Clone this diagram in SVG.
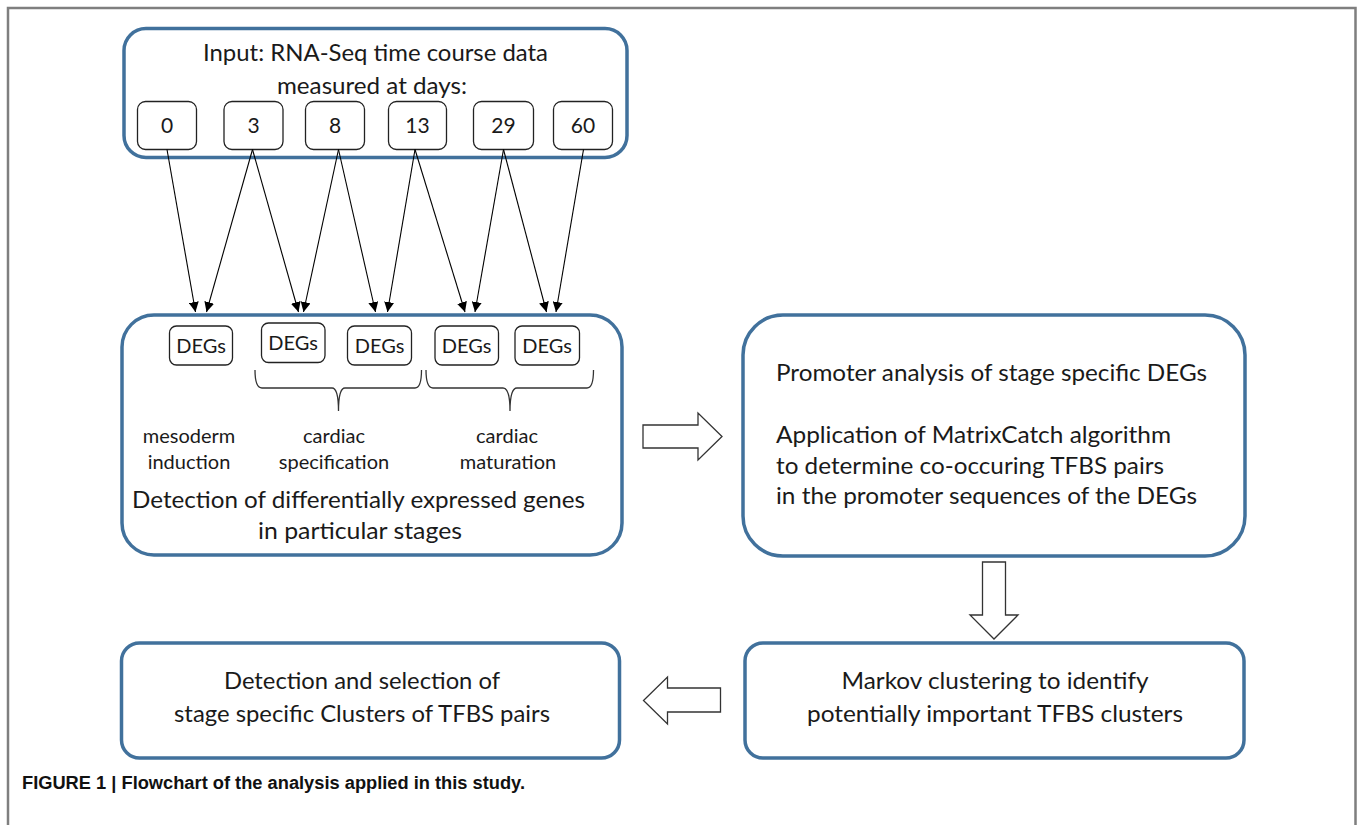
<svg xmlns="http://www.w3.org/2000/svg" width="1357" height="825" viewBox="0 0 1357 825">
<defs>
<marker id="ah" viewBox="0 0 10 10" refX="10" refY="5" markerWidth="10" markerHeight="10" markerUnits="userSpaceOnUse" orient="auto">
<path d="M0,0 L10,5 L0,10 z" fill="#000"/>
</marker>
</defs>
<style>
.big{fill:#fff;stroke:#41719C;stroke-width:3.5}
.small{fill:#fff;stroke:#222;stroke-width:1.3}
.t{font-family:Lato,"Liberation Sans",sans-serif;fill:#1a1a1a}
.t24{font-size:24px}
.t21{font-size:21px}
.t20{font-size:20px}
.mid{text-anchor:middle}
.conn line{stroke:#000;stroke-width:1.1;marker-end:url(#ah)}
.block{fill:#fff;stroke:#333;stroke-width:1.3;stroke-linejoin:miter}
.brace{fill:none;stroke:#333;stroke-width:1.3}
</style>
<rect x="0" y="0" width="1357" height="825" fill="#fff"/>
<path d="M8,825 L8,8 L1355.5,8 L1355.5,825" fill="none" stroke="#7f7f7f" stroke-width="2.5"/>

<g id="input">
<rect class="big" x="124" y="28.5" width="503" height="129" rx="22"/>
<text class="t t24 mid" x="375.5" y="61" textLength="345" lengthAdjust="spacingAndGlyphs">Input: RNA-Seq time course data</text>
<text class="t t24 mid" x="372" y="93.5" textLength="190" lengthAdjust="spacingAndGlyphs">measured at days:</text>
</g>
<g id="d0"><rect class="small" x="137.5" y="101.5" width="59" height="48" rx="8"/><text class="t t21 mid" x="167" y="133">0</text></g>
<g id="d3"><rect class="small" x="224" y="101.5" width="59" height="48" rx="8"/><text class="t t21 mid" x="253.5" y="133">3</text></g>
<g id="d8"><rect class="small" x="305.5" y="101.5" width="59" height="48" rx="8"/><text class="t t21 mid" x="335" y="133">8</text></g>
<g id="d13"><rect class="small" x="388.5" y="101.5" width="58" height="48" rx="8"/><text class="t t21 mid" x="417.5" y="133">13</text></g>
<g id="d29"><rect class="small" x="473.5" y="101.5" width="60" height="48" rx="8"/><text class="t t21 mid" x="503.5" y="133">29</text></g>
<g id="d60"><rect class="small" x="553.5" y="101.5" width="59" height="48" rx="8"/><text class="t t21 mid" x="583" y="133">60</text></g>

<g id="detection">
<rect class="big" x="122" y="315" width="500" height="240" rx="32"/>
<path class="brace" d="M255,370 Q255,388 262,388 L332,388 Q338.5,388 338.5,411 Q338.5,388 345,388 L415,388 Q421.5,388 421.5,370"/>
<path class="brace" d="M426,370 Q426,388 433,388 L503,388 Q510,388 510,411 Q510,388 517,388 L587,388 Q593.5,388 593.5,370"/>
<text class="t t20 mid" x="189" y="443">mesoderm</text>
<text class="t t20 mid" x="189" y="468.5">induction</text>
<text class="t t20 mid" x="334" y="443">cardiac</text>
<text class="t t20 mid" x="334" y="468.5">specification</text>
<text class="t t20 mid" x="507" y="443">cardiac</text>
<text class="t t20 mid" x="508" y="468.5">maturation</text>
<text class="t t24 mid" x="358.5" y="507.5" textLength="453" lengthAdjust="spacingAndGlyphs">Detection of differentially expressed genes</text>
<text class="t t24 mid" x="360" y="538.5" textLength="204" lengthAdjust="spacingAndGlyphs">in particular stages</text>
</g>
<g id="deg1"><rect class="small" x="169.5" y="326" width="63" height="39" rx="7"/><text class="t t20 mid" x="201" y="352.5">DEGs</text></g>
<g id="deg2"><rect class="small" x="261.5" y="323" width="63.5" height="39.5" rx="7"/><text class="t t20 mid" x="293" y="350">DEGs</text></g>
<g id="deg3"><rect class="small" x="347.5" y="326" width="64" height="39" rx="7"/><text class="t t20 mid" x="379.5" y="352.5">DEGs</text></g>
<g id="deg4"><rect class="small" x="435" y="326" width="63.5" height="39" rx="7"/><text class="t t20 mid" x="466.5" y="352.5">DEGs</text></g>
<g id="deg5"><rect class="small" x="515" y="326" width="64.5" height="39" rx="7"/><text class="t t20 mid" x="547" y="352.5">DEGs</text></g>

<g id="promoter">
<rect class="big" x="743" y="315" width="502" height="241" rx="40"/>
<text class="t t24" x="776" y="381" textLength="431" lengthAdjust="spacingAndGlyphs">Promoter analysis of stage specific DEGs</text>
<text class="t t24" x="776" y="443" textLength="395" lengthAdjust="spacingAndGlyphs">Application of MatrixCatch algorithm</text>
<text class="t t24" x="776" y="474" textLength="388" lengthAdjust="spacingAndGlyphs">to determine co-occuring TFBS pairs</text>
<text class="t t24" x="776" y="504" textLength="421" lengthAdjust="spacingAndGlyphs">in the promoter sequences of the DEGs</text>
</g>

<g id="markov">
<rect class="big" x="745" y="643" width="499" height="115" rx="18"/>
<text class="t t24 mid" x="995" y="689" textLength="307" lengthAdjust="spacingAndGlyphs">Markov clustering to identify</text>
<text class="t t24 mid" x="995" y="722" textLength="376" lengthAdjust="spacingAndGlyphs">potentially important TFBS clusters</text>
</g>

<g id="selection">
<rect class="big" x="121.5" y="643" width="498" height="115" rx="18"/>
<text class="t t24 mid" x="362" y="689" textLength="276" lengthAdjust="spacingAndGlyphs">Detection and selection of</text>
<text class="t t24 mid" x="362" y="722" textLength="376" lengthAdjust="spacingAndGlyphs">stage specific Clusters of TFBS pairs</text>
</g>

<g id="connectors" class="conn">
<line x1="167" y1="149.5" x2="195.5" y2="312"/>
<line x1="252.5" y1="149.5" x2="206.5" y2="312"/>
<line x1="252.5" y1="149.5" x2="298.5" y2="312"/>
<line x1="338.5" y1="149.5" x2="303.5" y2="312"/>
<line x1="338.5" y1="149.5" x2="375.5" y2="312"/>
<line x1="415" y1="149.5" x2="387.5" y2="312"/>
<line x1="415" y1="149.5" x2="465" y2="312"/>
<line x1="503.5" y1="149.5" x2="475" y2="312"/>
<line x1="503.5" y1="149.5" x2="546.5" y2="312"/>
<line x1="583.5" y1="149.5" x2="556" y2="312"/>
<path class="block" d="M643,425 L698,425 L698,413 L722,436.5 L698,460 L698,448 L643,448 Z"/>
<path class="block" d="M982.5,562 L1005.5,562 L1005.5,615 L1018,615 L994,639 L970,615 L982.5,615 Z"/>
<path class="block" d="M720.5,688 L667.5,688 L667.5,677 L643.5,700.5 L667.5,724 L667.5,712 L720.5,712 Z"/>
</g>

<text x="22" y="789" textLength="503" lengthAdjust="spacingAndGlyphs" style="font-family:'Liberation Sans',Arial,sans-serif;font-weight:bold;font-size:18px;fill:#111">FIGURE 1 | Flowchart of the analysis applied in this study.</text>
</svg>
